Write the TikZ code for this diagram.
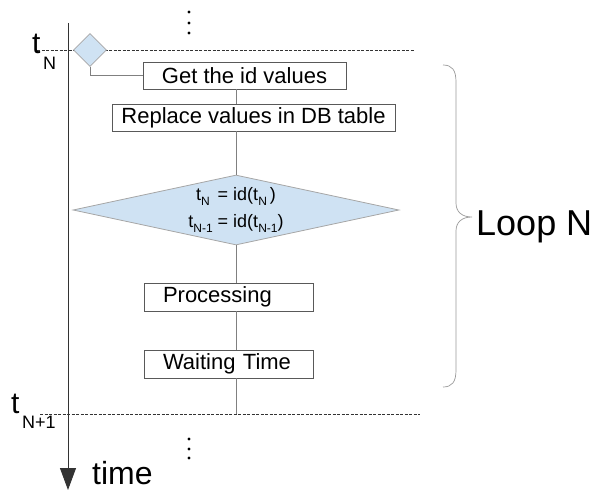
\documentclass[tikz,border=0pt]{standalone}
\usepackage{fontspec}
\setmainfont{Liberation Sans}
\usetikzlibrary{arrows.meta,positioning,shapes.geometric}

\definecolor{decfill}{HTML}{CFE2F3}
\newcommand{\lowidx}[2]{\raisebox{#1}{\fontsize{12}{12}\selectfont #2}}

\begin{document}
\begin{tikzpicture}[x=1pt,y=-1pt,
  stepbox/.style={draw=black!65,line width=0.8pt,fill=white,inner ysep=0pt,
    minimum height=27pt,font=\fontsize{22}{26}\selectfont},
  leftbox/.style={stepbox,text width=131pt,align=left,inner xsep=19pt,minimum height=28pt},
  decision/.style={diamond,draw=black!35,line width=0.8pt,fill=decfill,inner sep=0pt},
  link/.style={draw=black!50,line width=0.8pt},
  tick/.style={dash pattern=on 3pt off 1.5pt,line width=0.8pt,black!80},
  brace/.style={draw=black!40,line width=0.7pt}]
\useasboundingbox (0,0) rectangle (594,495);

% Time axis
\coordinate (axtop) at (68,23);
\coordinate (axbot) at (68,490);
\draw[line width=0.9pt,black!80,-{Triangle[width=16pt,length=22pt]}] (axtop) -- (axbot);
\node[anchor=base west,font=\fontsize{32}{32}\selectfont,inner sep=0pt] (time) at (92,484) {time};

% Time marks
\coordinate (tnA) at (37,50);
\coordinate (tnB) at (415,50);
\coordinate (tnnA) at (40,414);
\coordinate (tnnB) at (420,414);
\draw[tick] (tnA) -- (tnB);
\draw[tick] (tnnA) -- (tnnB);
\node[anchor=base west,font=\fontsize{30}{30}\selectfont,inner sep=0pt] (tn) at (32,53)
  {t\hspace{2.5pt}\raisebox{-17pt}{\fontsize{18}{18}\selectfont N}};
\node[anchor=base west,font=\fontsize{30}{30}\selectfont,inner sep=0pt] (tnn) at (11,413)
  {t\hspace{2.5pt}\raisebox{-15pt}{\fontsize{18}{18}\selectfont N+1}};

% Continuation dots
\foreach \y in {12,23,33} {
  \fill (189,\y) circle (1.7pt);
}
\foreach \y in {439,449,458} {
  \fill (189,\y) circle (1.7pt);
}

% Loop body
\node[decision,minimum size=33pt] (start) at (90,50) {};
\node[stepbox,minimum width=203pt] (get) at (244.5,75.5) {Get the id values};
\node[stepbox,minimum width=283pt] (repl) at (253.5,117.5) {Replace values in DB table};
\node[decision,aspect=4.66,minimum width=326pt,minimum height=70pt,align=center,
  font=\fontsize{18}{27}\selectfont] (cond) at (236,210)
  {t\lowidx{-5pt}{N}\, = id(t\lowidx{-5pt}{N}\,)\\
   t\lowidx{-5pt}{N-1} = id(t\lowidx{-5pt}{N-1})};
\node[leftbox] (proc) at (228.5,297) {Processing};
\node[leftbox] (wait) at (228.5,364) {Waiting Time};

% Connectors
\draw[link] (start.south) |- (get.west);
\draw[link] (get.south -| cond.north) -- (repl.north -| cond.north);
\draw[link] (repl.south -| cond.north) -- (cond.north);
\draw[link] (cond.south) -- (proc.north -| cond.south);
\draw[link] (proc.south -| cond.south) -- (wait.north -| cond.south);
\draw[link] (wait.south -| cond.south) -- (cond.south |- tnnA);

% Loop brace
\draw[brace] (443,65) .. controls (452,65) and (456,70) .. (456,82) -- (456,203)
  .. controls (456,212) and (462,217) .. (472,217)
  .. controls (462,217) and (456,222) .. (456,231) -- (456,370)
  .. controls (456,382) and (452,387) .. (443,387);
\node[anchor=base west,font=\fontsize{36}{36}\selectfont,inner sep=0pt] (loop) at (476,235) {Loop N};
\end{tikzpicture}
\end{document}
